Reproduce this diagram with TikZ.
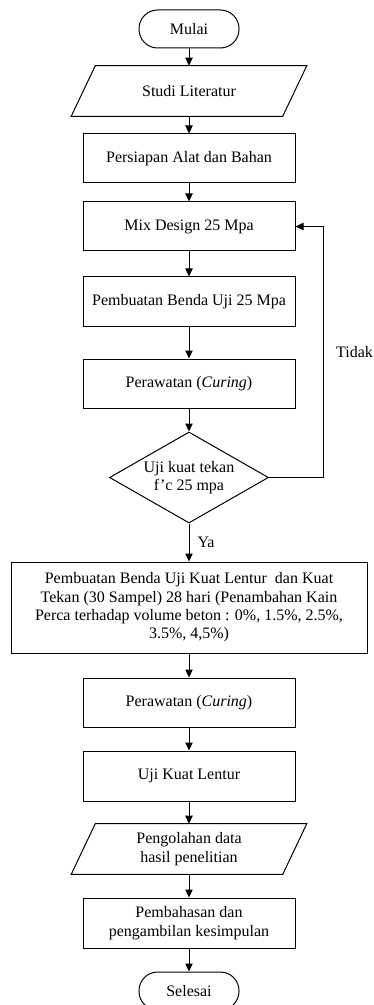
\documentclass[tikz,border=0pt]{standalone}
\usepackage{fontspec}
\setmainfont{Liberation Serif}
\usetikzlibrary{shapes,arrows.meta}

\begin{document}
\begin{tikzpicture}[x=0.75pt,y=-0.75pt]
	\tikzstyle{every node}=[font=\fontsize{12}{13.75}\selectfont]
	\tikzstyle{proses}=[rectangle, draw, line width=0.75pt, minimum width=159pt, minimum height=36.75pt, align=center, inner sep=0pt]
	\tikzstyle{terminal}=[rectangle, draw, line width=0.75pt, rounded corners=14pt, minimum width=75pt, minimum height=28.5pt, inner sep=0pt]
	\tikzstyle{dataio}=[rectangle, minimum width=158.25pt, minimum height=37.5pt, align=center, inner sep=0pt]
	\tikzstyle{keputusan}=[diamond, draw, line width=0.75pt, aspect=1.75, minimum width=119.25pt, minimum height=68.25pt, align=center, inner sep=0pt]
	\tikzstyle{panah}=[-{Triangle[length=6pt,width=5.5pt]}, line width=0.75pt]
	\tikzstyle{miring}=[line width=0.75pt]
	\tikzstyle{label}=[inner sep=0pt]

	\useasboundingbox (0,0) rectangle (374,1005);

	%% flowchart nodes
	\node [terminal]  (mulai)  at (189,29)  {Mulai};
	\node [dataio]  (studi)  at (189,91)  {Studi Literatur};
	\node [proses]  (persiapan)  at (189,158.5)  {Persiapan Alat dan Bahan};
	\node [proses]  (mix)  at (189,226.5)  {Mix Design 25 Mpa};
	\node [proses]  (benda)  at (189,301.5)  {Pembuatan Benda Uji 25 Mpa};
	\node [proses]  (rawat)  at (189,383.5)  {Perawatan (\textit{Curing})};
	\node [keputusan]  (uji)  at (189,477.5)  {Uji kuat tekan\\f'c 25 mpa};
	\node [proses, minimum width=267pt, minimum height=68.25pt]  (bendadua)  at (189,607.5)  {Pembuatan Benda Uji Kuat Lentur \ dan Kuat\\Tekan (30 Sampel) 28 hari (Penambahan Kain\\Perca terhadap volume beton : 0\%, 1.5\%, 2.5\%,\\3.5\%, 4,5\%)};
	\node [proses]  (rawatdua)  at (189,702.5)  {Perawatan (\textit{Curing})};
	\node [proses, minimum height=37.5pt]  (lentur)  at (189,776)  {Uji Kuat Lentur};
	\node [dataio]  (olah)  at (189,849)  {Pengolahan data\\hasil penelitian};
	\node [proses, minimum height=37.5pt]  (bahas)  at (189,923)  {Pembahasan dan\\pengambilan kesimpulan};
	\node [terminal]  (selesai)  at (189,991)  {Selesai};
	\coordinate (balik) at (323,477.5);

	%% parallelograms
	\draw [miring]  ([xshift=9pt]studi.north west) -- ([xshift=9pt]studi.north east) -- ([xshift=-9pt]studi.south east) -- ([xshift=-9pt]studi.south west) -- cycle;
	\draw [miring]  ([xshift=9pt]olah.north west) -- ([xshift=9pt]olah.north east) -- ([xshift=-9pt]olah.south east) -- ([xshift=-9pt]olah.south west) -- cycle;

	%% arrows
	\draw [panah]  (mulai) -- (studi);
	\draw [panah]  (studi) -- (persiapan);
	\draw [panah]  (persiapan) -- (mix);
	\draw [panah]  (mix) -- (benda);
	\draw [panah]  (benda) -- (rawat);
	\draw [panah]  (rawat) -- (uji);
	\draw [panah]  (uji) -- node [label, right=6pt] {Ya} (bendadua);
	\draw [panah]  (uji.east) -- (balik) |- node [label, pos=0.25, right=9.5pt] {Tidak} (mix.east);
	\draw [panah]  (bendadua) -- (rawatdua);
	\draw [panah]  (rawatdua) -- (lentur);
	\draw [panah]  (lentur) -- (olah);
	\draw [panah]  (olah) -- (bahas);
	\draw [panah]  (bahas) -- (selesai);

\end{tikzpicture}
\end{document}
